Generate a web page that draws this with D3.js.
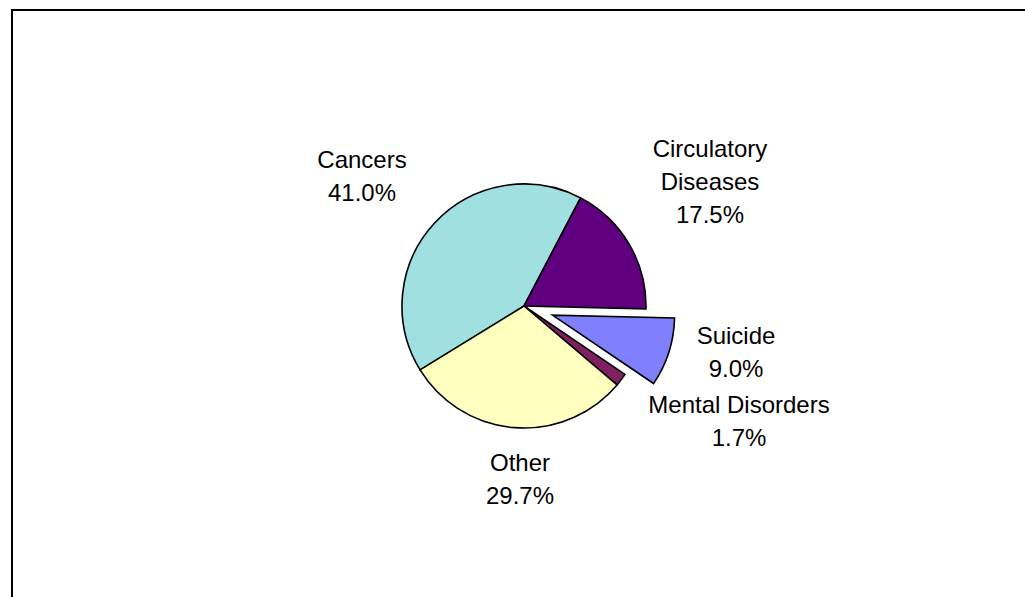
<!DOCTYPE html>
<html>
<head>
<meta charset="utf-8">
<script src="https://cdn.jsdelivr.net/npm/d3@7"></script>
<style>
  html, body { margin: 0; padding: 0; background: #fff; }
  svg { display: block; }
  text { font-family: "Liberation Sans", Arial, sans-serif; font-size: 24px; fill: #000; }
</style>
</head>
<body>
<svg id="chart" width="1025" height="597"></svg>
<script>
// ---- data ----
const categories = ["Cancers", "Circulatory Diseases", "Suicide", "Mental Disorders", "Other"];
const shares = [0.410, 0.175, 0.090, 0.017, 0.297];
const labelLines = [["Cancers"], ["Circulatory", "Diseases"], ["Suicide"], ["Mental Disorders"], ["Other"]];
const exploded = ["Suicide"];
const colors = ["#A0E0E0", "#600080", "#8080FF", "#802060", "#FFFFC0"];

// ---- layout ----
const W = 1025, H = 597;
const cx = 524, cy = 306, R = 122, explodeDist = 30;
const startDeg = -121.6;
// label anchor (center x, first baseline y) per category index
const labelAnchor = [[362, 168], [710, 157], [736, 344], [739, 413], [520, 471]];
const lineGap = 33;

const svg = d3.select("#chart");

// frame
svg.append("rect")
  .attr("x", 12).attr("y", 10)
  .attr("width", W + 20).attr("height", H + 20)
  .attr("fill", "#fff").attr("stroke", "#000").attr("stroke-width", 2);

const color = d3.scaleOrdinal().domain(categories).range(colors);
const data = categories.map((c, i) => ({ cat: c, value: shares[i], idx: i }));

const startRad = startDeg * Math.PI / 180;
const pie = d3.pie().sort(null).value(d => d.value)
  .startAngle(startRad).endAngle(startRad + 2 * Math.PI);
const arc = d3.arc().innerRadius(0).outerRadius(R);

const g = svg.append("g").attr("transform", `translate(${cx},${cy})`);

g.selectAll("path.slice")
  .data(pie(data))
  .join("path")
  .attr("class", "slice")
  .attr("d", arc)
  .attr("transform", d => {
    if (!exploded.includes(d.data.cat)) return null;
    const a = (d.startAngle + d.endAngle) / 2;
    return `translate(${explodeDist * Math.sin(a)},${-explodeDist * Math.cos(a)})`;
  })
  .attr("fill", d => color(d.data.cat))
  .attr("stroke", "#000")
  .attr("stroke-width", 1.6)
  .attr("stroke-linejoin", "miter");

const fmt = d3.format(".1%");
const labels = svg.append("g");
data.forEach((d, i) => {
  const [x, y] = labelAnchor[i];
  const lines = labelLines[i].concat([fmt(d.value)]);
  const t = labels.append("text").attr("text-anchor", "middle");
  lines.forEach((ln, k) => {
    t.append("tspan").attr("x", x).attr("y", y + k * lineGap).text(ln);
  });
});
</script>
</body>
</html>
